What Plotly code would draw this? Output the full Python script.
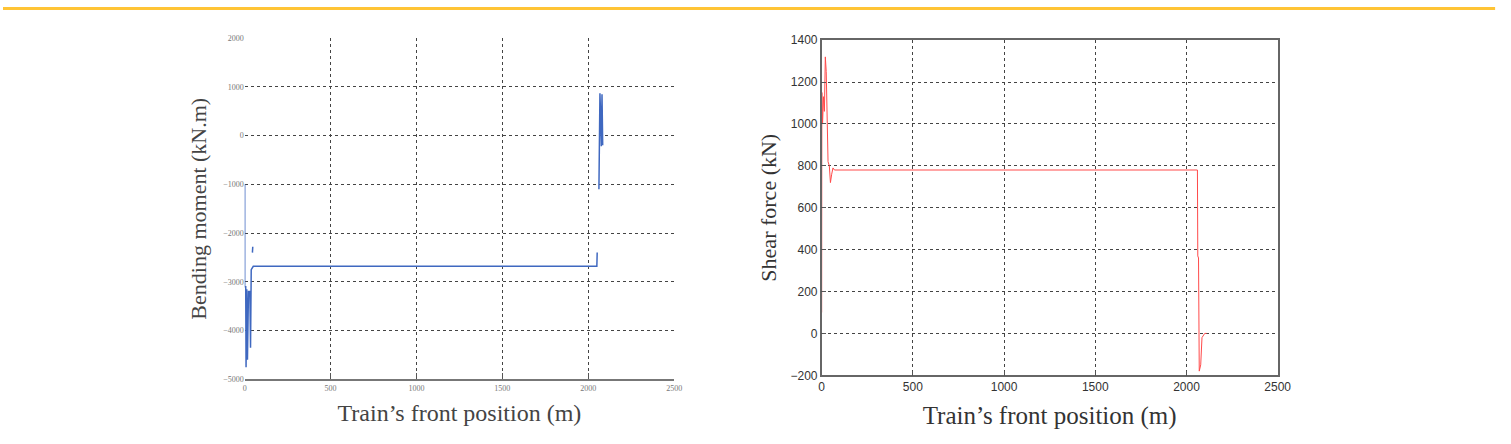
import plotly.graph_objects as go

# Bending moment (kN.m) vs train's front position (m)
bm_x = [0, 0, 6, 8, 12, 16, 22, 30, 34, 38, 50, 70, 2050, 2052, None,
        45, 47, None,
        2062, 2063, 2066, 2068, 2072, 2076, 2080, 2084]
bm_y = [-1000, -3100, -3100, -4750, -3150, -4600, -3200, -3200, -4350, -2750, -2680, -2680, -2680, -2400, None,
        -2400, -2280, None,
        -1100, -200, -200, 870, 400, -220, 850, -200]

# Shear force (kN) vs train's front position (m)
sf_x = [0, 1, 5, 10, 15, 20, 25, 30, 35, 42, 48, 55, 62, 70, 2060, 2062, 2066, 2070, 2078, 2085, 2100, 2110]
sf_y = [100, 1150, 1000, 1130, 1060, 1320, 1250, 1000, 820, 800, 720, 760, 790, 780, 780, 370, 360, -180, -150, -20, 0, 0]

x_ticks = [0, 500, 1000, 1500, 2000, 2500]
bm_ticks = [2000, 1000, 0, -1000, -2000, -3000, -4000, -5000]
sf_ticks = [1400, 1200, 1000, 800, 600, 400, 200, 0, -200]

W, H = 1511, 444
# the photographed page is slightly rescaled; map target pixels to figure pixels
SX, OX = 0.99, 3.0
SY, OY = 0.965, 7.0
def px(x):
    return ((x - OX) / SX) / W
def py(y):
    return 1 - ((y - OY) / SY) / H

fig = go.Figure()
fig.add_trace(go.Scatter(x=bm_x, y=bm_y, mode="lines", line=dict(color="#3f68c0", width=1.5),
                         xaxis="x", yaxis="y", showlegend=False, connectgaps=False))
fig.add_trace(go.Scatter(x=sf_x, y=sf_y, mode="lines", line=dict(color="#ff4a4a", width=1),
                         xaxis="x2", yaxis="y2", showlegend=False))

serif = "Liberation Serif"
sans = "Liberation Sans"
grid = dict(showgrid=True, gridcolor="#444444", gridwidth=1, griddash="dot", zeroline=False)

fig.update_layout(
    width=W, height=H, margin=dict(l=0, r=0, t=0, b=0),
    paper_bgcolor="white", plot_bgcolor="white",
    font=dict(family=serif, color="#222222"),
    xaxis=dict(domain=[px(245), px(675)], range=[0, 2500], tickvals=x_ticks,
               ticks="inside", ticklen=6, tickcolor="#555555", showline=True, linecolor="#777777", linewidth=2,
               tickfont=dict(size=8, color="#777777", family=serif),
               title=dict(text="Train’s front position (m)", font=dict(size=24, color="#444444"), standoff=12),
               anchor="y", **grid),
    yaxis=dict(domain=[py(378), py(38)], range=[-5000, 2000], tickvals=bm_ticks,
               ticks="", showline=False,
               tickfont=dict(size=8, color="#777777", family=serif),
               title=dict(text="Bending moment (kN.m)", font=dict(size=22, color="#444444"), standoff=10),
               anchor="x", **grid),
    xaxis2=dict(domain=[px(822.7), px(1279.3)], range=[0, 2500], tickvals=x_ticks,
                ticks="inside", ticklen=5, tickcolor="#555555", showline=True, mirror=True,
                linecolor="#666666", linewidth=1.5,
                tickfont=dict(size=12, color="#333333", family=sans),
                title=dict(text="Train’s front position (m)", font=dict(size=25, color="#333333"), standoff=13),
                anchor="y2", **grid),
    yaxis2=dict(domain=[py(374), py(40)], range=[-200, 1400], tickvals=sf_ticks,
                ticks="inside", ticklen=5, tickcolor="#555555", showline=True, mirror=True,
                linecolor="#666666", linewidth=1.5,
                tickfont=dict(size=12, color="#333333", family=sans),
                title=dict(text="Shear force (kN)", font=dict(size=22, color="#333333"), standoff=8),
                anchor="x2", **grid),
    shapes=[
        dict(type="rect", xref="paper", yref="paper", x0=0, x1=px(1497), y0=1 - 3 / H, y1=1,
             fillcolor="#ffc435", line=dict(width=0), layer="above"),
    ],
)

fig.write_html("out.html")
